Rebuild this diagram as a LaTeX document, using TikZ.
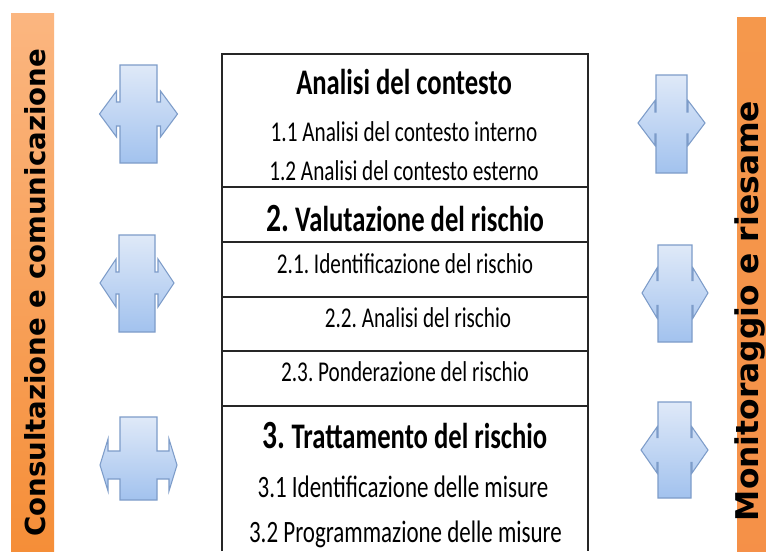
\documentclass[tikz,border=0pt]{standalone}
\usepackage{fontspec}
\usepackage{tikz}
\usepackage{xcolor}
\usetikzlibrary{arrows.meta}

\newfontfamily\boxfont[FakeStretch=0.74]{Carlito}
\newfontfamily\barfont{DejaVu Sans}
\frenchspacing

\definecolor{barlight}{HTML}{FBB680}
\definecolor{bardark}{HTML}{F58E38}
\definecolor{barright}{HTML}{F5984C}
\definecolor{arrowtop}{HTML}{DFE9F8}
\definecolor{arrowbot}{HTML}{A2C2EE}
\definecolor{arrowline}{HTML}{7D9CC9}

\tikzset{
  boxline/.style={line width=1.3pt, black!85},
  head/.style={inner sep=0pt, anchor=base, font=\boxfont\bfseries\fontsize{27}{30}\selectfont},
  item/.style={inner sep=0pt, anchor=base, font=\boxfont\fontsize{21.5}{24}\selectfont},
  bigitem/.style={inner sep=0pt, anchor=base, font=\boxfont\fontsize{23.3}{26}\selectfont},
  bartext/.style={inner sep=0pt, anchor=base, rotate=90, font=\barfont\bfseries},
  bluearrow/.style={draw=arrowline, line width=0.8pt, line join=miter, top color=arrowtop, bottom color=arrowbot}
}

\begin{document}
\begin{tikzpicture}[x=0.75pt, y=-0.75pt]

    \useasboundingbox[fill=white] (0,0) rectangle (766,551);

    % side bars
    \shade[top color=barlight, bottom color=bardark] (11,13) rectangle (54,551);
    \shade[top color=barright, bottom color=barright!95!red] (737,17) rectangle (766,551);
    \node[bartext, font=\barfont\bfseries\fontsize{20.7}{24}\selectfont] (consult) at (45,293) {Consultazione e comunicazione};
    \node[bartext, font=\barfont\bfseries\fontsize{23.5}{28}\selectfont] (monitor) at (758.5,311) {Monitoraggio e riesame};

    % double arrows: cx/rw/top/bottom/tip y/shaft/head/base/depth
    \foreach \cx/\rw/\ra/\rb/\ty/\s/\h/\b/\d in {
        138.5/18.5/65/163/114/12/23/3.5/17,
        137/18/235/332/283/11/24/3/16,
        138.5/18.5/417/500/465/14/26/12/8,
        671.5/15.5/75/173/123/11/22.5/1/17,
        675/17/245/342/293/12.5/25/1/15,
        674.5/16.5/402/498/450/12.5/23/1/16}
    {
      \draw[bluearrow] (\cx-\rw,\ra) -- (\cx+\rw,\ra) -- (\cx+\rw,\ty-\s) -- (\cx+\rw+\b,\ty-\s)
        -- (\cx+\rw+\b,\ty-\h) -- (\cx+\rw+\b+\d,\ty) -- (\cx+\rw+\b,\ty+\h) -- (\cx+\rw+\b,\ty+\s)
        -- (\cx+\rw,\ty+\s) -- (\cx+\rw,\rb) -- (\cx-\rw,\rb) -- (\cx-\rw,\ty+\s) -- (\cx-\rw-\b,\ty+\s)
        -- (\cx-\rw-\b,\ty+\h) -- (\cx-\rw-\b-\d,\ty) -- (\cx-\rw-\b,\ty-\h) -- (\cx-\rw-\b,\ty-\s)
        -- (\cx-\rw,\ty-\s) -- cycle;
    }

    % process box
    \draw[boxline] (222,551) -- (222,54) -- (588,54) -- (588,551);
    \foreach \y in {187,242,297,351,406}
      \draw[boxline] (222,\y) -- (588,\y);

    \node[head] (ctx) at (404,94) {Analisi del contesto};
    \node[item] (ctxint) at (404,141) {1.1 Analisi del contesto interno};
    \node[item] (ctxext) at (404,180) {1.2 Analisi del contesto esterno};

    \node[head] (val) at (405,231) {{\fontsize{30}{30}\selectfont 2.} Valutazione del rischio};
    \node[item] (ident) at (405,273) {2.1. Identificazione del rischio};
    \node[item] (anal) at (418,327) {2.2. Analisi del rischio};
    \node[item] (pond) at (405,381) {2.3. Ponderazione del rischio};

    \node[head] (tratt) at (405,448) {{\fontsize{30}{30}\selectfont 3.} Trattamento del rischio};
    \node[bigitem] (misid) at (403,497) {3.1 Identificazione delle misure};
    \node[bigitem] (misprog) at (405.5,542) {3.2 Programmazione delle misure};

\end{tikzpicture}
\end{document}
